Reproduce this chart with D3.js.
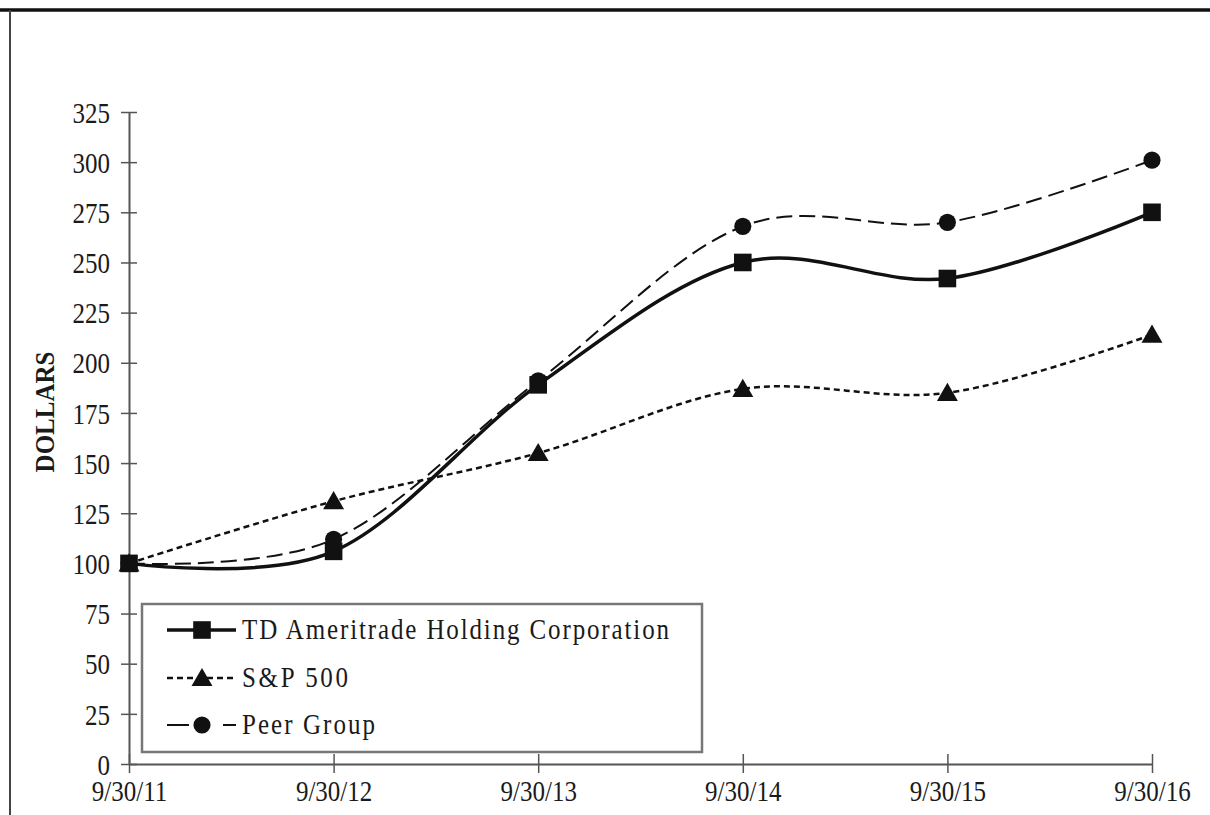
<!DOCTYPE html>
<html><head><meta charset="utf-8">
<script src="https://cdn.jsdelivr.net/npm/d3@7"></script>
<style>body{margin:0;background:#fff;} svg{display:block;} text{font-family:"Liberation Serif","Times New Roman",serif;fill:#1a1a1a;}</style>
</head><body>
<svg id="c" width="1210" height="815"></svg>
<script>
const categories = ["9/30/11","9/30/12","9/30/13","9/30/14","9/30/15","9/30/16"];
const tdAmeritrade = [100, 106, 189, 250, 242, 275];
const sp500 = [100, 131, 155, 187, 185, 214];
const peerGroup = [100, 112, 191, 268, 270, 301];
const yTicks = [0,25,50,75,100,125,150,175,200,225,250,275,300,325];
const seriesNames = ["TD Ameritrade Holding Corporation","S&P 500","Peer Group"];

const svg = d3.select("#c");
// page frame
svg.append("line").attr("x1",0).attr("x2",1210).attr("y1",10).attr("y2",10).attr("stroke","#111").attr("stroke-width",3.5);
svg.append("line").attr("x1",10).attr("x2",10).attr("y1",10).attr("y2",815).attr("stroke","#444").attr("stroke-width",2);

const x = d3.scalePoint().domain(categories).range([129,1152]);
const y = d3.scaleLinear().domain([0,325]).range([764,112]);
const VS = 1.2; // vertical stretch of the text in the reference

// y axis
const yAxis = svg.append("g").attr("transform","translate(129,0)")
  .call(d3.axisLeft(y).tickValues(yTicks).tickSize(8).tickPadding(11).tickSizeOuter(0));
yAxis.select(".domain").attr("stroke","#555").attr("stroke-width",2);
yAxis.selectAll(".tick line").attr("stroke","#555").attr("stroke-width",1.5).attr("x2",8).attr("x1",-8);
yAxis.selectAll(".tick text").attr("font-size",25).attr("font-family","Liberation Serif").attr("fill","#1a1a1a")
  .attr("x",-19).attr("dy","0.34em").attr("transform",`scale(1,${VS})`);

// x axis
const xAxis = svg.append("g").attr("transform","translate(0,764)")
  .call(d3.axisBottom(x).tickSize(9).tickPadding(12).tickSizeOuter(0));
xAxis.select(".domain").attr("stroke","#555").attr("stroke-width",2);
xAxis.selectAll(".tick line").attr("stroke","#555").attr("stroke-width",1.5).attr("y1",-10).attr("y2",9);
xAxis.selectAll(".tick text").attr("font-size",25).attr("font-family","Liberation Serif").attr("fill","#1a1a1a")
  .attr("y",13.5).attr("transform",`scale(1,${VS})`);

// y label
svg.append("text").attr("transform","translate(54,412) rotate(-90) scale(1,1.1)").attr("text-anchor","middle")
  .attr("font-size",25).attr("font-weight","bold").text("DOLLARS");

const styles = [
  {data: tdAmeritrade, width: 3.5, dash: null, marker: "square"},
  {data: sp500, width: 2.5, dash: "6,4", marker: "triangle"},
  {data: peerGroup, width: 2, dash: "16,7", marker: "circle"}
];
const line = d3.line().x((d,i)=>x(categories[i])).y(d=>y(d)).curve(d3.curveCardinal.tension(0));
const sym = {square: d3.symbolSquare, triangle: d3.symbolTriangle, circle: d3.symbolCircle};
const symSize = {square: 310, triangle: 190, circle: 230};

styles.forEach(s=>{
  svg.append("path").attr("d", line(s.data)).attr("fill","none").attr("stroke","#111")
    .attr("stroke-width", s.width).attr("stroke-dasharray", s.dash);
});
styles.forEach(s=>{
  svg.append("g").selectAll("path").data(s.data).join("path")
    .attr("transform",(d,i)=>`translate(${x(categories[i])},${y(d) + (s.marker==="triangle"?2:0)})`)
    .attr("d", d3.symbol().type(sym[s.marker]).size(symSize[s.marker])).attr("fill","#111");
});

// legend
const lg = svg.append("g");
lg.append("rect").attr("x",142).attr("y",604).attr("width",560).attr("height",148)
  .attr("fill","#fff").attr("stroke","#777").attr("stroke-width",2.5);
const rowsY = [630, 678, 725];
const textLens = [427, 106, 133];
styles.forEach((s,i)=>{
  const ry = rowsY[i];
  lg.append("line").attr("x1",167).attr("x2",236).attr("y1",ry).attr("y2",ry)
    .attr("stroke","#111").attr("stroke-width",s.width).attr("stroke-dasharray", s.dash ? (i===1?"6,4":"22,34") : null);
  lg.append("path").attr("transform",`translate(202,${ry + (s.marker==="triangle"?2:0)})`)
    .attr("d", d3.symbol().type(sym[s.marker]).size(symSize[s.marker])).attr("fill","#111");
  lg.append("text").attr("transform",`translate(242,${ry+9}) scale(1,${VS})`).attr("font-size",25)
    .attr("textLength",textLens[i]).attr("lengthAdjust","spacing").text(seriesNames[i]);
});
</script>
</body></html>
